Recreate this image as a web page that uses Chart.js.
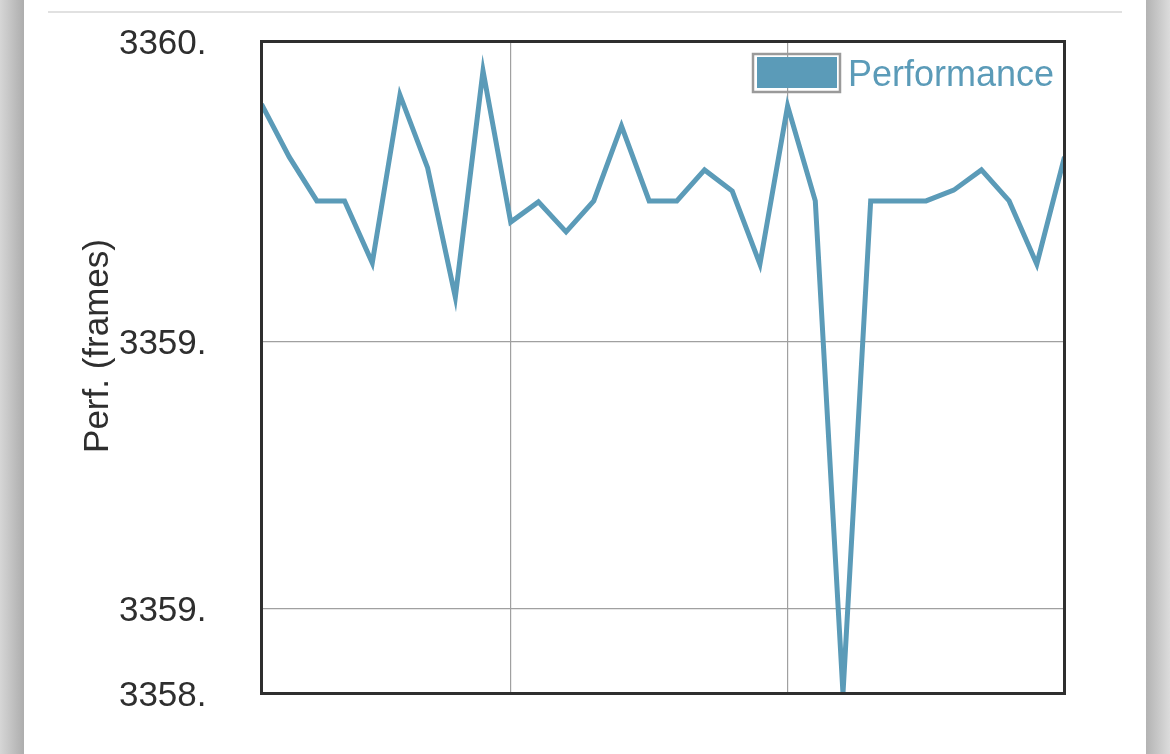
<!DOCTYPE html>
<html>
<head>
<meta charset="utf-8">
<script src="https://cdn.jsdelivr.net/npm/chart.js@4/dist/chart.umd.min.js"></script>
<style>
  html, body { margin: 0; padding: 0; background: #fff; }
  #wrap { width: 1170px; height: 754px; position: relative; }
</style>
</head>
<body>
<div id="wrap"><canvas id="c" width="1170" height="754"></canvas></div>
<script>
// ---- data ----
const seriesLabel = "Performance";
const xValues = [0,1,2,3,4,5,6,7,8,9,10,11,12,13,14,15,16,17,18,19,20,21,22,23,24,25,26,27,28,29];
const perfValues = [3359.808, 3359.646, 3359.511, 3359.511, 3359.321, 3359.836, 3359.612, 3359.216, 3359.910, 3359.446,
                    3359.508, 3359.416, 3359.511, 3359.741, 3359.511, 3359.511, 3359.606, 3359.541, 3359.317, 3359.802,
                    3359.511, 3358.000, 3359.511, 3359.511, 3359.511, 3359.544, 3359.606, 3359.511, 3359.317, 3359.646];
const yTickValues = [3358, 3358.26, 3359.08, 3360];
const yTickLabels = ["3358.", "3359.", "3359.", "3360."];
const xGridValues = [9, 19];
const yTitle = "Perf. (frames)";

const lineColor = "#5b9bb8";
const textColor = "#2e2e2e";
const fontFamily = "'Liberation Sans', Arial, Helvetica, sans-serif";

const pagePlugin = {
  id: 'page',
  beforeDraw(chart) {
    const ctx = chart.ctx;
    ctx.save();
    ctx.fillStyle = '#ffffff';
    ctx.fillRect(0, 0, 1170, 754);
    let g = ctx.createLinearGradient(0, 0, 24, 0);
    g.addColorStop(0, '#d6d6d6');
    g.addColorStop(1, '#adadad');
    ctx.fillStyle = g;
    ctx.fillRect(0, 0, 24, 754);
    g = ctx.createLinearGradient(1146, 0, 1170, 0);
    g.addColorStop(0, '#b3b3b3');
    g.addColorStop(1, '#dcdcdc');
    ctx.fillStyle = g;
    ctx.fillRect(1146, 0, 24, 754);
    ctx.fillStyle = '#e1e1e1';
    ctx.fillRect(48, 11, 1074, 2);
    ctx.restore();
  },
  afterDraw(chart) {
    const ctx = chart.ctx;
    const a = chart.chartArea;
    ctx.save();
    ctx.strokeStyle = '#2f2f2f';
    ctx.lineWidth = 3;
    ctx.strokeRect(a.left, a.top, a.right - a.left, a.bottom - a.top);
    // y axis title
    ctx.save();
    ctx.translate(98, 346);
    ctx.rotate(-Math.PI / 2);
    ctx.font = "35px " + fontFamily;
    ctx.fillStyle = textColor;
    ctx.textAlign = 'center';
    ctx.textBaseline = 'middle';
    ctx.fillText(yTitle, 0, 0);
    ctx.restore();
    // legend
    const ds = chart.data.datasets[0];
    ctx.strokeStyle = '#9a9a9a';
    ctx.lineWidth = 2.5;
    ctx.strokeRect(753, 54, 87, 38);
    ctx.fillStyle = ds.borderColor;
    ctx.fillRect(757, 57, 80, 31);
    ctx.font = "36px " + fontFamily;
    ctx.fillStyle = ds.borderColor;
    ctx.textBaseline = 'alphabetic';
    ctx.textAlign = 'left';
    ctx.fillText(ds.label, 848, 86);
    ctx.restore();
  }
};

new Chart(document.getElementById('c'), {
  type: 'line',
  data: {
    labels: xValues,
    datasets: [{
      label: seriesLabel,
      data: xValues.map((x, i) => ({x: x, y: perfValues[i]})),
      borderColor: lineColor,
      backgroundColor: lineColor,
      borderWidth: 5,
      pointRadius: 0,
      tension: 0,
      fill: false
    }]
  },
  options: {
    responsive: false,
    animation: false,
    events: [],
    layout: { padding: { top: 41.5, right: 105.5, left: 0, bottom: 0 } },
    plugins: { legend: { display: false }, tooltip: { enabled: false } },
    scales: {
      x: {
        type: 'linear',
        min: 0, max: 29,
        afterBuildTicks: (s) => { s.ticks = xGridValues.map(v => ({value: v})); },
        afterFit: (s) => { s.height = 60.5; s.paddingLeft = 0; s.paddingRight = 0; },
        ticks: { display: false },
        grid: { color: '#a0a0a0', lineWidth: 1.2, drawTicks: false },
        border: { display: false }
      },
      y: {
        type: 'linear',
        min: 3358, max: 3360,
        afterBuildTicks: (s) => { s.ticks = yTickValues.map(v => ({value: v})); },
        afterFit: (s) => { s.width = 261.5; s.paddingTop = 0; s.paddingBottom = 0; },
        ticks: {
          padding: 55,
          labelOffset: 3,
          color: textColor,
          font: { family: fontFamily, size: 35 },
          callback: (v, i) => yTickLabels[i]
        },
        grid: { color: '#a0a0a0', lineWidth: 1.2, drawTicks: false },
        border: { display: false },
        title: { display: false }
      }
    }
  },
  plugins: [pagePlugin]
});
</script>
</body>
</html>
